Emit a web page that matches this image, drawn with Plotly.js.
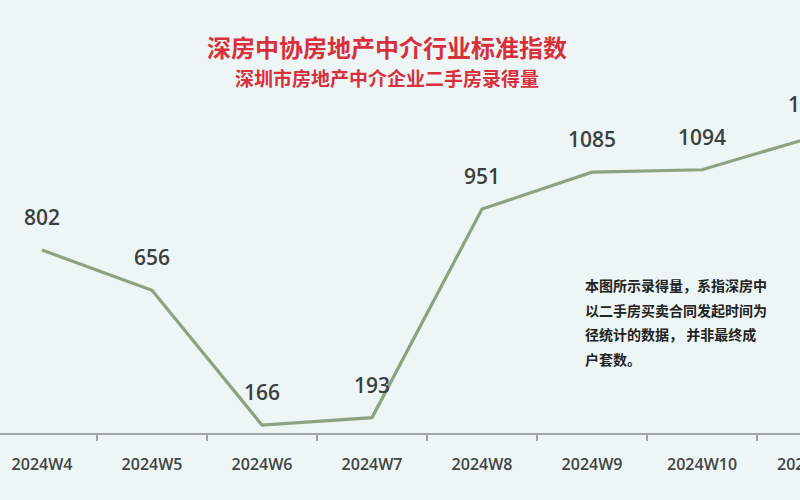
<!DOCTYPE html>
<html>
<head>
<meta charset="utf-8">
<script src="https://cdn.plot.ly/plotly-3.0.1.min.js"></script>
<style>html,body{margin:0;padding:0;background:#eef6f5;overflow:hidden;}#chart{width:850px;height:500px;}</style>
</head>
<body>
<div id="chart"></div>
<script>
const categories = ['2024W4','2024W5','2024W6','2024W7','2024W8','2024W9','2024W10','2024W11'];
const values = [802, 656, 166, 193, 951, 1085, 1094, 1212];
const titleMain = '深房中协房地产中介行业标准指数';
const titleSub = '深圳市房地产中介企业二手房录得量';
const noteLines = ['本图所示录得量，系指深房中', '以二手房买卖合同发起时间为', '径统计的数据， 并非最终成', '户套数。'];

const font = '"Noto Sans CJK SC", "Noto Sans", sans-serif';
const numFont = '"Open Sans", "Noto Sans", sans-serif';
const W = 850;

const lineTrace = {
  x: categories, y: values, type: 'scatter', mode: 'lines',
  line: {color: '#8ca283', width: 3.2}, hoverinfo: 'skip'
};

const annotations = categories.map((c, i) => ({
  x: c, y: values[i], xref: 'x', yref: 'y', text: String(values[i]),
  showarrow: false, yshift: 33, font: {family: numFont, size: 21, weight: 600, color: '#3b4040'}
}));

annotations.push({xref: 'paper', yref: 'paper', x: 387/W, y: 1 - 46/433, xanchor: 'center', yanchor: 'middle',
  text: '<b>' + titleMain + '</b>', showarrow: false, font: {family: font, size: 24, color: '#d8303c'}});
annotations.push({xref: 'paper', yref: 'paper', x: 387/W, y: 1 - 77/433, xanchor: 'center', yanchor: 'middle',
  text: '<b>' + titleSub + '</b>', showarrow: false, font: {family: font, size: 19, color: '#d8303c'}});

noteLines.forEach((t, k) => {
  annotations.push({xref: 'paper', yref: 'paper', x: 583/W, y: 1 - (285 + 24.5*k)/433, xanchor: 'left', yanchor: 'middle',
    text: '<b>' + t + '</b>', showarrow: false, font: {family: font, size: 14, color: '#222222'}});
});

const layout = {
  width: W, height: 500,
  margin: {l: 0, r: 0, t: 0, b: 67},
  paper_bgcolor: '#eef6f5', plot_bgcolor: '#eef6f5',
  showlegend: false,
  xaxis: {
    type: 'category', range: [-0.382, 7.345],
    showgrid: false, zeroline: false,
    showline: true, linecolor: '#a0a6a6', linewidth: 2,
    ticks: 'outside', tickson: 'boundaries', ticklen: 6, tickcolor: '#a0a6a6', tickwidth: 1.5,
    ticklabelstandoff: 16,
    tickfont: {family: numFont, size: 16, weight: 600, color: '#3f4444'}
  },
  yaxis: {range: [137, 1711], visible: false, showgrid: false, zeroline: false},
  annotations: annotations
};

Plotly.newPlot('chart', [lineTrace], layout, {displayModeBar: false, staticPlot: true});
</script>
</body>
</html>
